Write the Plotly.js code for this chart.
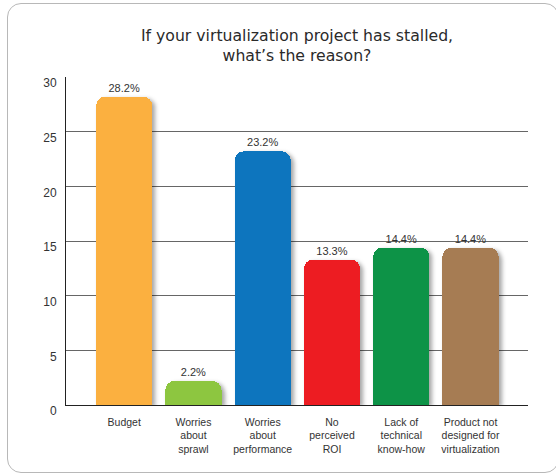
<!DOCTYPE html>
<html>
<head>
<meta charset="utf-8">
<script src="https://cdn.plot.ly/plotly-3.0.1.min.js"></script>
<style>
  html, body { margin: 0; padding: 0; background: #fff; overflow: hidden; width: 556px; height: 474px; }
  #frame { position: absolute; left: 7px; top: 3px; width: 552px; height: 470px;
           border: 1px solid #b8b8b8; border-radius: 14px; box-sizing: border-box; }
  #chart { position: absolute; left: 0; top: 0; width: 556px; height: 474px; }
</style>
</head>
<body>
<div id="frame"></div>
<div id="chart"></div>
<script>
const categories = [
  "Budget",
  "Worries<br>about<br>sprawl",
  "Worries<br>about<br>performance",
  "No<br>perceived<br>ROI",
  "Lack of<br>technical<br>know-how",
  "Product not<br>designed for<br>virtualization"
];
const values = [28.2, 2.2, 23.2, 13.3, 14.4, 14.4];
const valueLabels = ["28.2%", "2.2%", "23.2%", "13.3%", "14.4%", "14.4%"];
const barColors = ["#FBB040", "#8DC63F", "#1174BE", "#ED1C24", "#0E9347", "#A67C52"];
const yTicks = [0, 5, 10, 15, 20, 25, 30];

const trace = {
  type: "bar",
  x: categories.map((c, i) => i),
  y: values,
  text: valueLabels,
  textposition: "outside",
  cliponaxis: false,
  textfont: { family: "Liberation Sans, Arial, sans-serif", size: 11, color: "#333" },
  marker: { color: barColors, cornerradius: 9, line: { width: 0 } },
  width: 0.81,
  hoverinfo: "none"
};

const layout = {
  width: 556, height: 474,
  margin: { l: 65.5, r: 28, t: 77, b: 69 },
  paper_bgcolor: "rgba(0,0,0,0)",
  plot_bgcolor: "rgba(0,0,0,0)",
  showlegend: false,
  title: {
    text: "If your virtualization project has stalled,<br>what\u2019s the reason?",
    font: { family: "DejaVu Sans, sans-serif", size: 15.7, color: "#2a2a2a" },
    x: 0.5, xanchor: "center", y: 0.914, yanchor: "top", xref: "paper"
  },
  xaxis: {
    range: [-0.84, 5.83],
    tickmode: "array",
    tickvals: categories.map((c, i) => i),
    ticktext: categories,
    showgrid: false, zeroline: false,
    showline: true, linecolor: "#222", linewidth: 1,
    ticks: "",
    ticklabelstandoff: 7,
    tickfont: { family: "Liberation Sans, Arial, sans-serif", size: 10.5, color: "#333" },
    fixedrange: true
  },
  yaxis: {
    range: [0, 30],
    tickmode: "array",
    tickvals: yTicks,
    showgrid: true, gridcolor: "#666", gridwidth: 1,
    zeroline: false,
    showline: true, linecolor: "#222", linewidth: 1,
    ticks: "",
    ticklabelstandoff: 6,
    ticklabelshift: 6,
    tickfont: { family: "Liberation Sans, Arial, sans-serif", size: 12, color: "#333" },
    fixedrange: true
  },
  bargap: 0
};

Plotly.newPlot("chart", [trace], layout, { displayModeBar: false, staticPlot: true }).then(gd => {
  const svg = gd.querySelector("svg.main-svg");
  const ns = "http://www.w3.org/2000/svg";
  let defs = svg.querySelector("defs");
  if (!defs) { defs = document.createElementNS(ns, "defs"); svg.insertBefore(defs, svg.firstChild); }
  const f = document.createElementNS(ns, "filter");
  f.setAttribute("id", "barShadow");
  f.setAttribute("x", "-20%"); f.setAttribute("y", "-20%");
  f.setAttribute("width", "150%"); f.setAttribute("height", "150%");
  f.innerHTML = '<feDropShadow dx="3" dy="2" stdDeviation="2" flood-color="#000" flood-opacity="0.35"/>';
  defs.appendChild(f);
  gd.querySelectorAll(".barlayer .point path").forEach(p => p.setAttribute("filter", "url(#barShadow)"));
});
</script>
</body>
</html>
